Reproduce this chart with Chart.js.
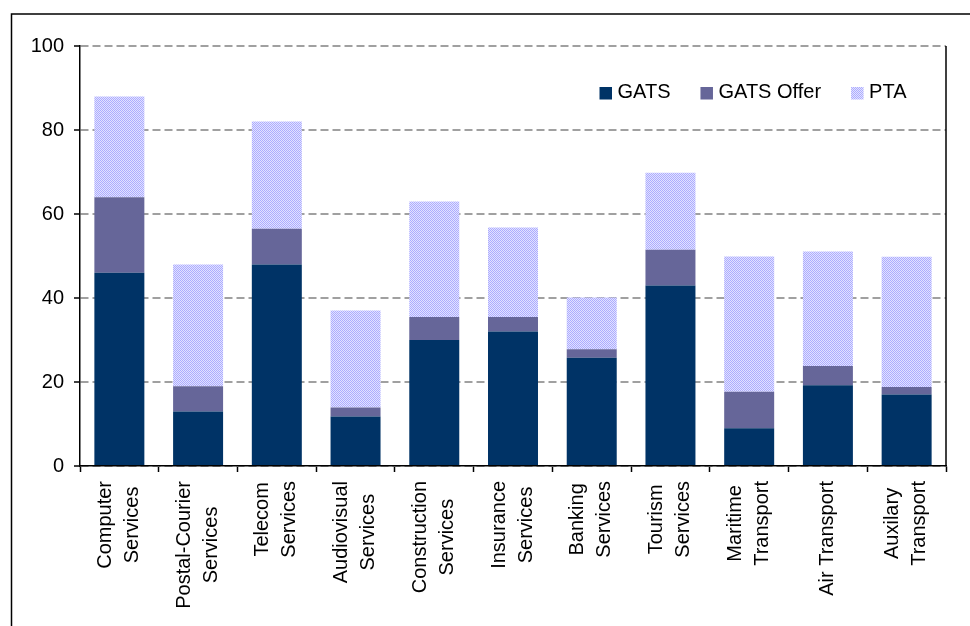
<!DOCTYPE html>
<html>
<head>
<meta charset="utf-8">
<script src="https://cdn.jsdelivr.net/npm/chart.js@4.4.1/dist/chart.umd.min.js"></script>
<style>
  body { margin: 0; background: #fff; }
</style>
</head>
<body>
<canvas id="commitments" width="970" height="626"></canvas>
<script>
// sectors, one entry per bar (two-line labels as arrays)
const sectors = [
  ["Computer", "Services"],
  ["Postal-Courier", "Services"],
  ["Telecom", "Services"],
  ["Audiovisual", "Services"],
  ["Construction", "Services"],
  ["Insurance", "Services"],
  ["Banking", "Services"],
  ["Tourism", "Services"],
  ["Maritime", "Transport"],
  ["Air Transport"],
  ["Auxilary", "Transport"],
];

// stacked segments: GATS, then what the offer adds, then what PTAs add
const gats      = [46, 13, 48, 11.8, 30, 32, 25.8, 43, 9, 19.2, 17];
const gatsOffer = [18, 6, 8.5, 2.1, 5.5, 3.5, 2, 8.5, 8.7, 4.6, 1.8];
const pta       = [24, 29, 25.5, 23.1, 27.5, 21.3, 12.3, 18.3, 32.2, 27.3, 31];

const yTicks = [0, 20, 40, 60, 80, 100];

const FONT = "'Liberation Sans', Arial, sans-serif";

function dotPattern(light, dark) {
  const c = document.createElement("canvas");
  c.width = 2;
  c.height = 2;
  const g = c.getContext("2d");
  g.fillStyle = light;
  g.fillRect(0, 0, 2, 2);
  g.fillStyle = dark;
  g.fillRect(0, 0, 1, 1);
  g.fillRect(1, 1, 1, 1);
  return g.createPattern(c, "repeat");
}

const ptaFill = dotPattern("#e2e2ff", "#acacff");

// outer frame, legend, right edge and rotated category labels
const extras = {
  id: "extras",
  afterDraw(chart) {
    const ctx = chart.ctx;
    const area = chart.chartArea;
    const x = chart.scales.x;

    ctx.save();
    ctx.strokeStyle = "#000";
    ctx.lineWidth = 1.5;
    ctx.strokeRect(11.5, 14, 1000, 700);

    ctx.lineWidth = 1.5;
    ctx.beginPath();
    ctx.moveTo(area.right, area.top);
    ctx.lineTo(area.right, area.bottom);
    ctx.stroke();

    // legend
    ctx.font = "20px " + FONT;
    ctx.textBaseline = "alphabetic";
    ctx.textAlign = "left";
    let lx = 599.5;
    chart.data.datasets.forEach(function (ds) {
      ctx.fillStyle = ds.backgroundColor;
      ctx.fillRect(lx, 87, 12.5, 12.5);
      ctx.fillStyle = "#000";
      ctx.fillText(ds.label, lx + 18, 97.5);
      lx += 18 + ctx.measureText(ds.label).width + 30;
    });

    // category labels, read bottom to top, lines centred on each other
    const top = 481;
    sectors.forEach(function (lines, i) {
      const cx = x.getPixelForValue(i);
      let widest = 0;
      lines.forEach(function (t) { widest = Math.max(widest, ctx.measureText(t).width); });
      ctx.save();
      ctx.translate(cx, top);
      ctx.rotate(-Math.PI / 2);
      ctx.textAlign = "center";
      ctx.textBaseline = "middle";
      ctx.fillStyle = "#000";
      const step = 27;
      const first = -0.5 - (lines.length - 1) * step / 2;
      lines.forEach(function (t, k) {
        ctx.fillText(t, -widest / 2, first + k * step);
      });
      ctx.restore();
    });
    ctx.restore();
  },
};

new Chart(document.getElementById("commitments").getContext("2d"), {
  type: "bar",
  data: {
    labels: sectors.map(function (l) { return l.join(" "); }),
    datasets: [
      { label: "GATS", data: gats, backgroundColor: "#003366" },
      { label: "GATS Offer", data: gatsOffer, backgroundColor: "#666699" },
      { label: "PTA", data: pta, backgroundColor: ptaFill },
    ],
  },
  options: {
    responsive: false,
    animation: false,
    events: [],
    layout: { padding: { top: 46, right: 24, left: 0, bottom: 0 } },
    datasets: {
      bar: { barPercentage: 0.635, categoryPercentage: 1, borderWidth: 0 },
    },
    plugins: {
      legend: { display: false },
      tooltip: { enabled: false },
    },
    scales: {
      x: {
        stacked: true,
        offset: true,
        afterFit: function (scale) { scale.height = 160; },
        ticks: { display: false },
        grid: {
          offset: true,
          drawOnChartArea: false,
          drawTicks: true,
          tickLength: 6,
          tickColor: "#000",
          tickWidth: 1.5,
        },
        border: { color: "#000", width: 1.5 },
      },
      y: {
        stacked: true,
        min: 0,
        max: 100,
        afterFit: function (scale) { scale.width = 80; },
        afterBuildTicks: function (scale) {
          scale.ticks = yTicks.map(function (v) { return { value: v }; });
        },
        ticks: {
          padding: 10,
          color: "#000",
          font: { family: FONT, size: 20 },
        },
        grid: {
          color: "#a0a0a0",
          lineWidth: 2,
          tickLength: 6,
          tickColor: "#000",
          tickWidth: 1.5,
          tickBorderDash: [],
        },
        border: { color: "#000", width: 1.5, dash: [8, 4] },
      },
    },
  },
  plugins: [extras],
});
</script>
</body>
</html>
